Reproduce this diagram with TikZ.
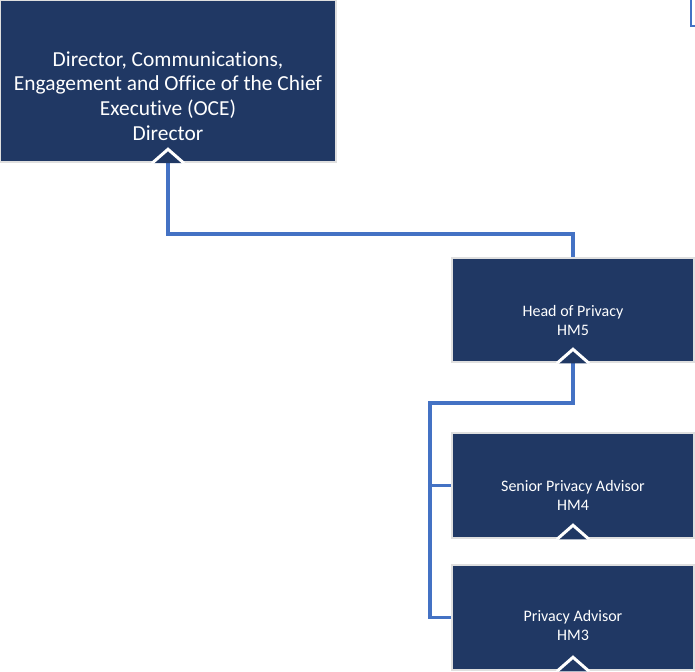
\documentclass[tikz,border=0pt]{standalone}
\usepackage{fontspec}
\setmainfont{Carlito}[Ligatures=NoCommon]
\usetikzlibrary{positioning}
\definecolor{navy}{HTML}{203864}
\definecolor{linkblue}{HTML}{4472C4}

\begin{document}
\begin{tikzpicture}[x=1pt, y=-1pt,
    box/.style={draw=gray!25, line width=2.5pt, fill=navy, inner sep=0pt},
    boxtext/.style={text=white, align=center, inner sep=0pt,
                    font=\fontsize{16}{19}\selectfont},
    bigtext/.style={boxtext, font=\fontsize{21.4}{24.6}\selectfont},
    link/.style={draw=linkblue, line width=3.5pt},
    chev/.style={fill=navy, draw=white, line width=3pt}]
  \useasboundingbox (0,0) rectangle (695,671);
  % boxes
  \node[box, minimum width=336, minimum height=162] (dir) at (168,81) {};
  \node[box, minimum width=242, minimum height=104] (hop) at (573,310) {};
  \node[box, minimum width=242, minimum height=105] (spa) at (573,485.5) {};
  \node[box, minimum width=242, minimum height=105] (pa) at (573,617.5) {};
  \node[bigtext] (dirtext) at ([yshift=-15pt]dir.center)
       {Director, Communications,\\Engagement and Office of the Chief\\Executive (OCE)\\Director};
  \node[boxtext] (hoptext) at ([yshift=-10pt]hop.center) {Head of Privacy\\HM5};
  \node[boxtext] (spatext) at ([yshift=-10pt]spa.center) {Senior Privacy Advisor\\HM4};
  \node[boxtext] (patext) at ([yshift=-8pt]pa.center) {Privacy Advisor\\HM3};
  % connectors
  \coordinate (bus) at (430,403);
  \coordinate (offa) at (691,-3);
  \coordinate (offb) at (698,26);
  \draw[link] (hop.north) -- ++(0,-23) -| (dir.south);
  \draw[link] (spa.west) -| (bus) -| (hop.south);
  \draw[link] (pa.west) -| (bus);
  \draw[link, line width=2pt] (offa) |- (offb);
  % arrow heads
  \foreach \b in {dir,hop,spa,pa}
    \draw[chev] ([xshift=-16pt]\b.south) -- ([yshift=14pt]\b.south) -- ([xshift=16pt]\b.south);
\end{tikzpicture}
\end{document}
